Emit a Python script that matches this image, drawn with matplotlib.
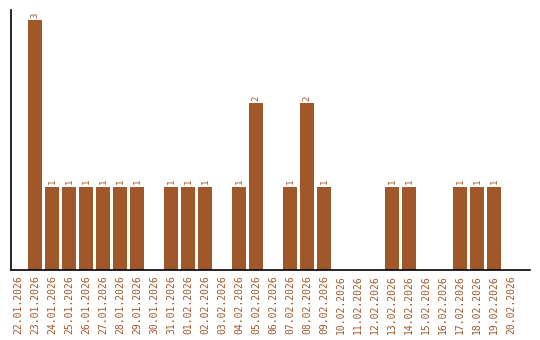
import matplotlib.pyplot as plt
import numpy as np

dates = ['22.01.2026', '23.01.2026', '24.01.2026', '25.01.2026', '26.01.2026',
         '27.01.2026', '28.01.2026', '29.01.2026', '30.01.2026', '31.01.2026',
         '01.02.2026', '02.02.2026', '03.02.2026', '04.02.2026', '05.02.2026',
         '06.02.2026', '07.02.2026', '08.02.2026', '09.02.2026', '10.02.2026',
         '11.02.2026', '12.02.2026', '13.02.2026', '14.02.2026', '15.02.2026',
         '16.02.2026', '17.02.2026', '18.02.2026', '19.02.2026', '20.02.2026']
counts = [0, 3, 1, 1, 1, 1, 1, 1, 0, 1,
          1, 1, 0, 1, 2, 0, 1, 2, 1, 0,
          0, 0, 1, 1, 0, 0, 1, 1, 1, 0]

col = '#A0572A'
fig = plt.figure(figsize=(5.4, 3.4), dpi=100)
ax = fig.add_axes([10.5/540, 70/340, 519.5/540, 260/340])

x = np.arange(len(dates))
ax.bar(x, counts, width=0.82, color=col)
for xi, c in zip(x, counts):
    if c > 0:
        ax.text(xi, c + 0.03, str(c), rotation=90, ha='center', va='bottom',
                color=col, fontsize=6.5, family='DejaVu Sans Mono')

ax.set_xlim(-0.44, 30.1)
ax.set_ylim(0, 3.12)
ax.set_xticks(x)
ax.set_xticklabels(dates, rotation=90, color=col, fontsize=7, family='DejaVu Sans Mono')
ax.tick_params(axis='x', length=0, pad=4)
ax.set_yticks([])
ax.spines['top'].set_visible(False)
ax.spines['right'].set_visible(False)
ax.spines['left'].set_linewidth(1.2)
ax.spines['bottom'].set_linewidth(1.2)

fig.savefig('out.png', dpi=100)
